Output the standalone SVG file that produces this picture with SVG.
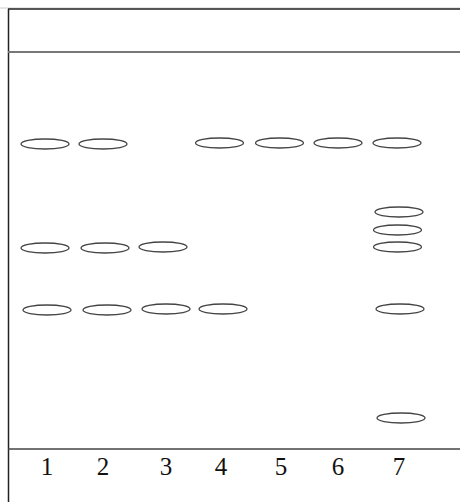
<svg xmlns="http://www.w3.org/2000/svg" width="460" height="502" viewBox="0 0 460 502">
<style>
.band{fill:#fff;stroke:#444;stroke-width:1.3}
.lbl{font-family:"Liberation Serif",serif;font-size:25px;fill:#111;text-anchor:middle}
</style>
<rect width="460" height="502" fill="#fff"/>
<g id="frame">
<line x1="0" y1="8" x2="460" y2="8" stroke="#ccc" stroke-width="1"/>
<line x1="8" y1="9" x2="460" y2="9" stroke="#222" stroke-width="1.5"/>
<line x1="8.5" y1="9" x2="8.5" y2="502" stroke="#222" stroke-width="1.5"/>
<line x1="8" y1="52" x2="460" y2="52" stroke="#777" stroke-width="2"/>
<line x1="8" y1="449" x2="460" y2="449" stroke="#444" stroke-width="1.3"/>
</g>
<g id="lane1">
<ellipse class="band" cx="45" cy="144" rx="24" ry="5"/>
<ellipse class="band" cx="45" cy="248" rx="24" ry="5"/>
<ellipse class="band" cx="47" cy="310" rx="24" ry="5"/>
<text class="lbl" x="47" y="475">1</text>
</g>
<g id="lane2">
<ellipse class="band" cx="103" cy="144" rx="24" ry="5"/>
<ellipse class="band" cx="105" cy="248" rx="24" ry="5"/>
<ellipse class="band" cx="107" cy="310" rx="24" ry="5"/>
<text class="lbl" x="103" y="475">2</text>
</g>
<g id="lane3">
<ellipse class="band" cx="163" cy="247" rx="24" ry="5"/>
<ellipse class="band" cx="166" cy="309" rx="24" ry="5"/>
<text class="lbl" x="166" y="475">3</text>
</g>
<g id="lane4">
<ellipse class="band" cx="219.5" cy="143" rx="24" ry="5"/>
<ellipse class="band" cx="223" cy="309" rx="24" ry="5"/>
<text class="lbl" x="221" y="475">4</text>
</g>
<g id="lane5">
<ellipse class="band" cx="279.5" cy="143" rx="24" ry="5"/>
<text class="lbl" x="281" y="475">5</text>
</g>
<g id="lane6">
<ellipse class="band" cx="338" cy="143" rx="24" ry="5"/>
<text class="lbl" x="338" y="475">6</text>
</g>
<g id="lane7">
<ellipse class="band" cx="397" cy="143" rx="24" ry="5"/>
<ellipse class="band" cx="399" cy="212" rx="24" ry="5"/>
<ellipse class="band" cx="397.5" cy="230" rx="24" ry="5"/>
<ellipse class="band" cx="397.5" cy="247" rx="24" ry="5"/>
<ellipse class="band" cx="400" cy="309" rx="24" ry="5"/>
<ellipse class="band" cx="401" cy="418" rx="24" ry="5"/>
<text class="lbl" x="399" y="475">7</text>
</g>
<g id="connectors"/>
</svg>
